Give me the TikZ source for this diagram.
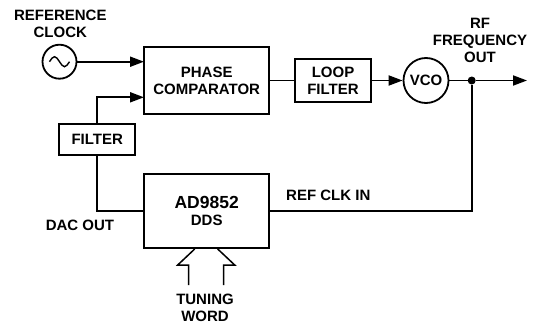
\documentclass[tikz,border=0pt]{standalone}
\usepackage{fontspec}
\setmainfont{Liberation Sans}
\usepackage{tikz}
\usetikzlibrary{positioning, arrows.meta}
\tikzset{
    block/.style={rectangle, draw, line width=2pt, inner sep=0pt, align=center},
    circblock/.style={circle, draw, line width=1.8pt, inner sep=0pt},
    lbl/.style={align=center, inner sep=0pt},
    wire/.style={line width=1.9pt},
    sigarrow/.style={wire, -{Triangle[length=14pt, width=10pt]}},
    joint/.style={circle, fill, inner sep=0pt, minimum size=8pt}
}

\begin{document}
\begin{tikzpicture}[x=1pt, y=-1pt, font=\fontsize{15}{17}\selectfont\bfseries]
                    \useasboundingbox (0,0) rectangle (535,329);
                    \node[circblock, minimum size=34pt] (refclk) at (59.5,61.7) {};
                    \node[block, minimum width=125pt, minimum height=67pt] (phcomp) at (206.7,80.5) {PHASE\\COMPARATOR};
                    \node[block, minimum width=76pt, minimum height=42pt] (loopfilt) at (333,80.5) {LOOP\\FILTER};
                    \node[circblock, minimum size=45pt] (vco) at (426,80.5) {VCO};
                    \node[joint] (outdot) at (471.7,80.5) {};
                    \coordinate (rfout) at (527,80.5);
                    \node[block, minimum width=76pt, minimum height=31pt] (filt) at (97.2,139.5) {FILTER};
                    \node[block, minimum width=125pt, minimum height=74pt] (dds) at (206.7,211) {{\fontsize{17.5}{19}\selectfont AD9852}\\DDS};
                    \coordinate (phin1) at (144,61.7);
                    \coordinate (phin2) at (144,97.3);
                    
                    \node[lbl] (refclklbl) at (60.3,24) {REFERENCE\\CLOCK};
                    \node[lbl] (rfoutlbl) at (480,40.5) {RF\\FREQUENCY\\OUT};
                    \node[lbl] (daclbl) at (80,225) {DAC OUT};
                    \node[lbl, anchor=west] (refinlbl) at (286,195) {REF CLK IN};
                    \node[lbl] (tunelbl) at (205,307.5) {TUNING\\WORD};
                    
                    % sine in the oscillator
                    \draw[line width=1.4pt] (refclk.center) ++(-10,0) sin ++(5,-5) cos ++(5,5) sin ++(5,5) cos ++(5,-5);
                    
                    \draw[sigarrow] (refclk.east) -- (phin1);
                    \draw[sigarrow] (filt.north) |- (phin2);
                    \draw[wire] (phcomp.east) -- (loopfilt.west);
                    \draw[sigarrow] (loopfilt.east) -- (vco.west);
                    \draw[wire] (vco.east) -- (outdot);
                    \draw[sigarrow] (outdot) -- (rfout);
                    \draw[wire] (outdot) |- (dds.east);
                    \draw[wire] (filt.south) |- (dds.west);
                    
                    % tuning word input
                    \draw[wire, line width=1.5pt] (dds.south) ++(-12,0) -- ++(-17,16) -- ++(11,0) -- ++(0,20);
                    \draw[wire, line width=1.5pt] (dds.south) ++(11,0) -- ++(17,16) -- ++(-11,0) -- ++(0,20);
                \end{tikzpicture}
\end{document}
